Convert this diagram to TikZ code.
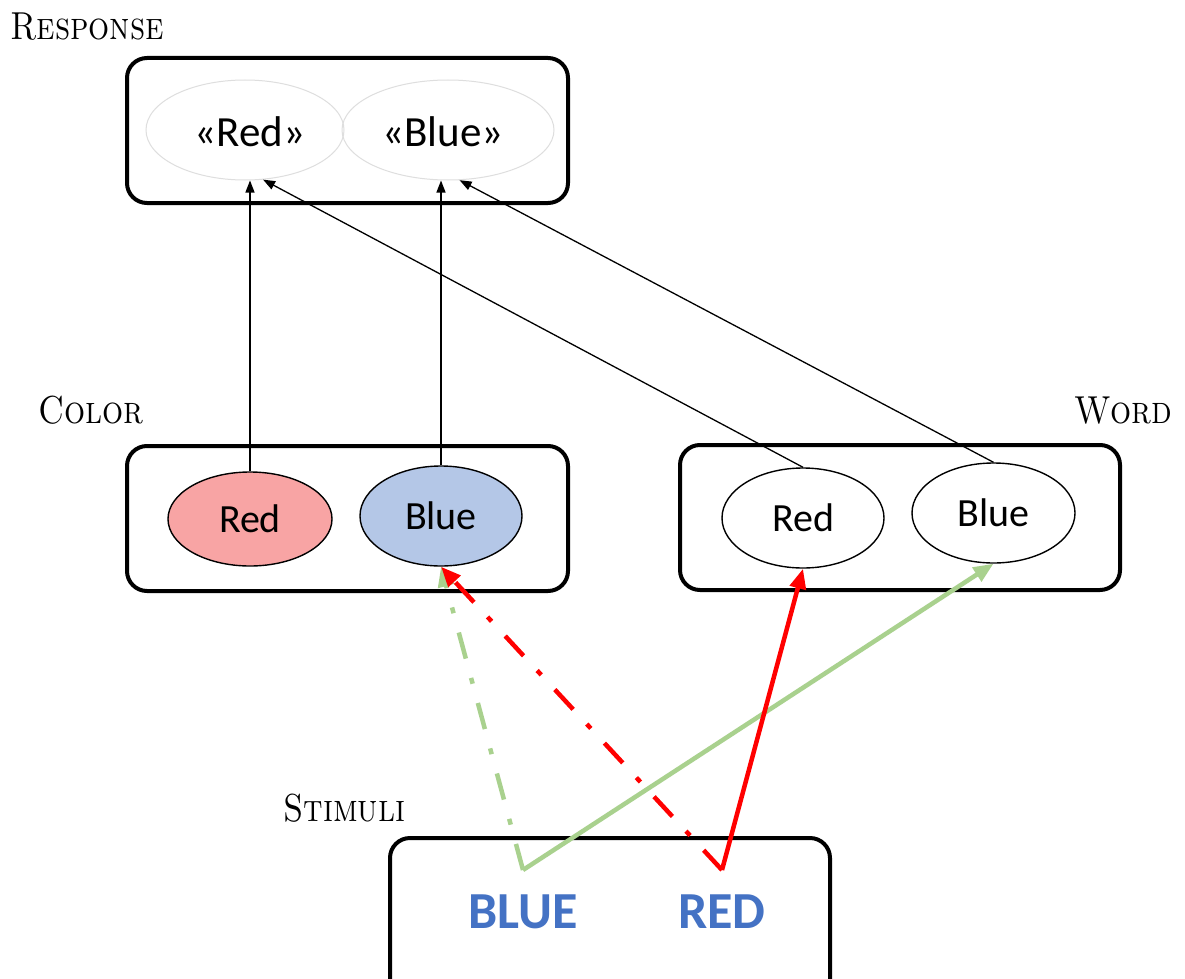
\documentclass[tikz,border=0pt]{standalone}
\usepackage{fontspec}
\newfontfamily\calfont{Carlito}
\usetikzlibrary{arrows.meta,calc,shapes.geometric}
\definecolor{redfill}{RGB}{248,164,164}
\definecolor{bluefill}{RGB}{180,199,231}
\definecolor{greenline}{RGB}{169,209,142}
\definecolor{textblue}{RGB}{68,114,196}
\definecolor{ghost}{RGB}{222,222,222}
\definecolor{redline}{RGB}{255,0,0}
\newcommand{\narrowsc}[1]{\scalebox{0.85}[1]{#1}}
\begin{document}
\begin{tikzpicture}[x=1pt,y=-1pt,
  box/.style={draw,line width=4pt,rounded corners=20pt},
  elli/.style={ellipse,draw,line width=1.4pt,inner sep=0pt,
    font=\calfont\fontsize{40}{44}\selectfont},
  ghostelli/.style={ellipse,draw=ghost,line width=1pt,inner sep=0pt},
  resptext/.style={inner sep=0pt,font=\calfont\fontsize{43}{46}\selectfont},
  lbl/.style={inner sep=0pt,font=\fontsize{39}{40}\selectfont\scshape},
  stim/.style={inner sep=0pt,text=textblue,font=\calfont\bfseries\fontsize{52}{56}\selectfont},
  thin/.style={draw,line width=1.3pt,-{Triangle[length=12pt,width=9pt]}},
  thick/.style={line width=4.5pt,-{Triangle[length=20pt,width=16pt]}},
  dashdot/.style={dash pattern=on 27pt off 20pt on 6pt off 20pt}]
\useasboundingbox (0,0) rectangle (1185,979);
\clip (0,0) rectangle (1185,979);
\fill[white] (0,0) rectangle (1185,979);

% boxes
\draw[box] (127,58) rectangle (568,203);
\draw[box] (127,446) rectangle (568,591);
\draw[box] (680,445) rectangle (1120,590);
\draw[box] (390,838) rectangle (830,1010);

% labels
\node[lbl,anchor=base west] (lresp) at (10,40) {\narrowsc{Response}};
\node[lbl,anchor=base west] (lcolor) at (38,423) {\narrowsc{Color}};
\node[lbl,anchor=base east] (lword) at (1172,423) {\narrowsc{Word}};
\node[lbl,anchor=base west] (lstim) at (283,821) {\narrowsc{Stimuli}};

% response ellipses
\node[ghostelli,minimum width=198pt,minimum height=100pt] (rR) at (245,130) {};
\node[ghostelli,minimum width=212pt,minimum height=100pt] (rB) at (448,130) {};
\node[resptext] (trR) at (250,132) {«Red»};
\node[resptext] (trB) at (443,132) {«Blue»};

% color ellipses
\node[elli,fill=redfill,minimum width=164pt,minimum height=94pt] (cR) at (250,519) {Red};
\node[elli,fill=bluefill,minimum width=162pt,minimum height=100pt] (cB) at (441,516) {Blue};

% word ellipses
\node[elli,fill=white,minimum width=162pt,minimum height=100pt] (wR) at (803,518) {Red};
\node[elli,fill=white,minimum width=163pt,minimum height=100pt] (wB) at (993.5,513) {Blue};

% stimuli
\node[stim] (sB) at (523,912) {BLUE};
\node[stim] (sR) at (722,912) {RED};
\coordinate (jB) at (523,870);
\coordinate (jR) at (722,870);

% black arrows
\draw[thin] (cR.north) -- (cR.north |- rR.south);
\draw[thin] (cB.north) -- (cB.north |- rB.south);
\draw[thin] (wR.north) -- (rR.-70);
\draw[thin] (wB.north) -- (rB.-77);

% coloured arrows
\draw[thick,greenline,dashdot] (jB) -- (cB.south);
\draw[thick,greenline] (jB) -- (wB.south);
\draw[thick,redline,dashdot] (jR) -- (cB.south);
\draw[thick,redline] (jR) -- (wR.south);
\end{tikzpicture}
\end{document}
